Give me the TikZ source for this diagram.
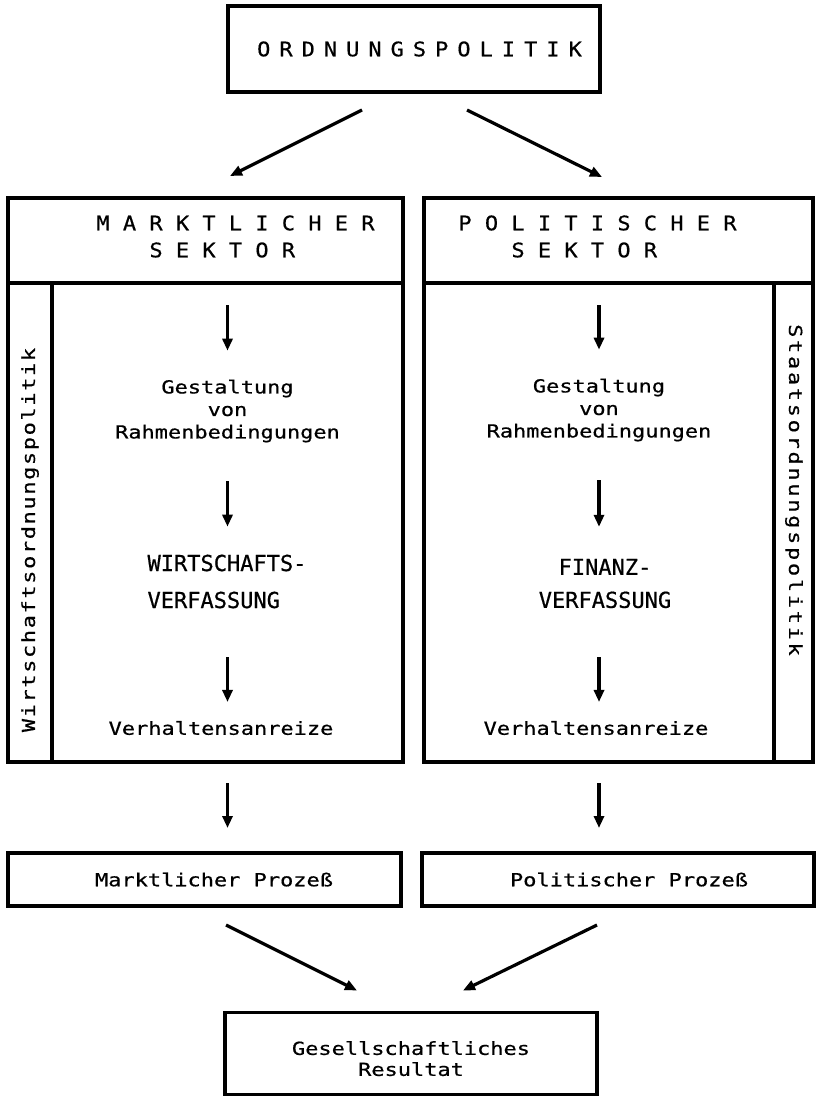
\documentclass[tikz,border=0pt]{standalone}
\usepackage{fontspec}
\usetikzlibrary{arrows.meta}
\newfontfamily\bodyfont[FakeStretch=1.22,FakeBold=0.6]{DejaVu Sans Mono}
\newfontfamily\headfont[FakeStretch=1.1,FakeBold=0.6]{DejaVu Sans Mono}
\newfontfamily\capsfont[FakeBold=0.6]{DejaVu Sans Mono}
\begin{document}
\begin{tikzpicture}[x=1pt,y=-1pt,
  box/.style={draw,line width=3.2pt,inner sep=0pt,outer sep=0pt},
  txt/.style={inner sep=0pt,outer sep=0pt,align=center,font=\fontsize{18}{22.5}\bodyfont},
  arr/.style={line width=3.2pt,-{Triangle[length=12pt,width=10pt]}}]
\useasboundingbox (0,0) rectangle (817,1097);
\node[box,minimum width=372pt,minimum height=86pt,
  font=\fontsize{20}{24}\headfont\addfontfeature{LetterSpace=45}] (ordnung) at (414,49) {\hspace*{11pt}ORDNUNGSPOLITIK};
%
\node[box,minimum width=395pt,minimum height=85pt] (mkthead) at (205.5,240.5) {};
\node[box,minimum width=44pt,minimum height=479pt] (mktside) at (30,522.5) {};
\node[box,minimum width=351pt,minimum height=479pt] (mktbody) at (227.5,522.5) {};
\node[box,minimum width=389pt,minimum height=85pt] (polhead) at (618.5,240.5) {};
\node[box,minimum width=350pt,minimum height=479pt] (polbody) at (599,522.5) {};
\node[box,minimum width=39pt,minimum height=479pt] (polside) at (793.5,522.5) {};
\node[txt,align=left,font=\fontsize{20}{27}\headfont] (mkttitle) at (235.5,236.5)
  {M A R K T L I C H E R\\\phantom{MARK}S E K T O R};
\node[txt,align=left,font=\fontsize{20}{27}\headfont] (poltitle) at (597.5,236.5)
  {P O L I T I S C H E R\\\phantom{MARK}S E K T O R};
\node[txt,rotate=90,font=\fontsize{18}{22}\bodyfont\addfontfeature{LetterSpace=9}] (wirtlab) at (30,540) {Wirtschaftsordnungspolitik};
\node[txt,rotate=-90,font=\fontsize{18}{22}\bodyfont\addfontfeature{LetterSpace=15}] (staatlab) at (794,490) {Staatsordnungspolitik};
%
\node[txt] (gestL) at (227.5,411) {Gestaltung\\von\\Rahmenbedingungen};
\node[txt,align=left,font=\fontsize{22}{37}\capsfont] (wirtL) at (227,581.5) {WIRTSCHAFTS-\\VERFASSUNG};
\node[txt] (verhL) at (221,728) {Verhaltensanreize};
\node[txt] (gestR) at (599,410) {Gestaltung\\von\\Rahmenbedingungen};
\node[txt,font=\fontsize{22}{33}\capsfont] (finR) at (605,583.5) {FINANZ-\\VERFASSUNG};
\node[txt] (verhR) at (596,728) {Verhaltensanreize};
%
\node[box,minimum width=393pt,minimum height=53pt,font=\fontsize{18}{22}\bodyfont] (mktproc) at (204.5,879.5) {\hspace*{19pt}Marktlicher Prozeß};
\node[box,minimum width=392pt,minimum height=53pt,font=\fontsize{18}{22}\bodyfont] (polproc) at (618,879.5) {\hspace*{22pt}Politischer Prozeß};
\node[box,minimum width=372pt,minimum height=82pt,align=center,font=\fontsize{18}{21}\bodyfont] (result) at (411,1053.5) {\rule{0pt}{24pt}Gesellschaftliches\\Resultat};
%
\draw[arr] ([shift={(-52,18)}]ordnung.south) -- ([shift={(24.5,-22)}]mkthead.north);
\draw[arr] ([shift={(53,18)}]ordnung.south) -- ([shift={(-16.5,-21)}]polhead.north);
\draw[arr,shorten <=22pt,shorten >=29pt] (mktbody.north) -- (gestL.north -| mktbody.north);
\draw[arr,shorten <=39pt,shorten >=28pt] (gestL.south -| mktbody.north) -- (wirtL.north -| mktbody.north);
\draw[arr,shorten <=49pt,shorten >=19pt] (wirtL.south -| mktbody.north) -- (verhL.north -| mktbody.north);
\draw[arr,shorten <=21pt,shorten >=25pt] (mktbody.south) -- (mktproc.north -| mktbody.south);
\draw[arr,shorten <=22pt,shorten >=29pt] (polbody.north) -- (gestR.north -| polbody.north);
\draw[arr,shorten <=39pt,shorten >=32pt] (gestR.south -| polbody.north) -- (finR.north -| polbody.north);
\draw[arr,shorten <=49pt,shorten >=19pt] (finR.south -| polbody.north) -- (verhR.north -| polbody.north);
\draw[arr,shorten <=21pt,shorten >=25pt] (polbody.south) -- (polproc.north -| polbody.south);
%
\draw[arr] ([shift={(21.5,19)}]mktproc.south) -- ([shift={(-54,-22)}]result.north);
\draw[arr] ([shift={(-21,19)}]polproc.south) -- ([shift={(52,-22)}]result.north);
\end{tikzpicture}
\end{document}
